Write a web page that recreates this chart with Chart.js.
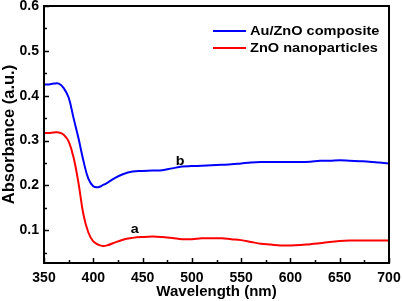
<!DOCTYPE html>
<html>
<head>
<meta charset="utf-8">
<script src="https://cdn.jsdelivr.net/npm/chart.js@4.4.1/dist/chart.umd.min.js"></script>
<style>
  html, body { margin: 0; padding: 0; background: #fff; }
  canvas { display: block; }
</style>
</head>
<body>
<canvas id="uv-chart" width="402" height="301"></canvas>
<script>
// ---- data ----
const wavelengths = [350, 355, 360, 365, 370, 375, 380, 385, 390, 395, 400, 405, 410, 415, 420,
  430, 440, 450, 460, 470, 480, 490, 500, 510, 520, 530, 540, 550, 560, 570, 580, 590, 600,
  610, 620, 630, 640, 650, 660, 670, 680, 690, 700];

const auZnO = [0.425, 0.425, 0.427, 0.427, 0.417, 0.396, 0.350, 0.305, 0.255, 0.215, 0.198, 0.196, 0.201, 0.207, 0.214,
  0.225, 0.231, 0.232, 0.233, 0.234, 0.238, 0.242, 0.243, 0.244, 0.245, 0.246, 0.247, 0.249, 0.251, 0.252, 0.252, 0.252, 0.252,
  0.252, 0.253, 0.255, 0.255, 0.256, 0.255, 0.254, 0.253, 0.251, 0.249];

const znoNP = [0.317, 0.317, 0.318, 0.318, 0.313, 0.298, 0.262, 0.205, 0.135, 0.095, 0.075, 0.068, 0.065, 0.067, 0.071,
  0.079, 0.083, 0.085, 0.086, 0.085, 0.083, 0.080, 0.080, 0.082, 0.082, 0.082, 0.080, 0.078, 0.074, 0.070, 0.068, 0.066, 0.066,
  0.067, 0.069, 0.071, 0.074, 0.076, 0.077, 0.077, 0.077, 0.077, 0.077];

const seriesLabels = ['Au/ZnO composite', 'ZnO nanoparticles'];
const seriesColors = ['#0000ff', '#ff0000'];

const xMajor = [350, 400, 450, 500, 550, 600, 650, 700];
const xMinor = [375, 425, 475, 525, 575, 625, 675];
const yMajor = [0.1, 0.2, 0.3, 0.4, 0.5, 0.6];
const yMinor = [0.05, 0.15, 0.25, 0.35, 0.45, 0.55];

// curve tags: [text, wavelength, absorbance]
const curveTags = [['a', 442, 0.101], ['b', 488, 0.254]];

const FONT = '"Liberation Sans", Arial, sans-serif';

const toPoints = ys => wavelengths.map((x, i) => ({ x, y: ys[i] }));

// draws text a little wider, the original figure's lettering is stretched
function wideText(ctx, text, x, y, sx) {
  ctx.save();
  ctx.translate(x, y);
  ctx.scale(sx, 1);
  ctx.fillText(text, 0, 0);
  ctx.restore();
}

// frame, inward ticks, curve tags and legend
const decorations = {
  id: 'decorations',
  afterDraw(chart) {
    const { ctx, chartArea: a, scales: { x, y } } = chart;
    ctx.save();
    ctx.strokeStyle = '#000';
    ctx.lineWidth = 2;
    ctx.strokeRect(a.left, a.top, a.right - a.left, a.bottom - a.top);

    ctx.lineWidth = 1.5;
    ctx.beginPath();
    const tickX = (v, len) => { const px = Math.round(x.getPixelForValue(v)) + 0.5; ctx.moveTo(px, a.bottom); ctx.lineTo(px, a.bottom - len); };
    const tickY = (v, len) => { const py = Math.round(y.getPixelForValue(v)) + 0.5; ctx.moveTo(a.left, py); ctx.lineTo(a.left + len, py); };
    xMajor.forEach(v => tickX(v, 5));
    xMinor.forEach(v => tickX(v, 3));
    yMajor.forEach(v => tickY(v, 5));
    yMinor.forEach(v => tickY(v, 3));
    ctx.stroke();

    ctx.fillStyle = '#000';
    ctx.font = 'bold 13px ' + FONT;
    ctx.textAlign = 'center';
    ctx.textBaseline = 'middle';
    curveTags.forEach(([t, wx, wy]) => wideText(ctx, t, x.getPixelForValue(wx), y.getPixelForValue(wy), 1.1));

    // legend
    ctx.font = 'bold 13px ' + FONT;
    ctx.textAlign = 'left';
    chart.data.datasets.forEach((ds, i) => {
      const ly = 31 + i * 17;
      ctx.strokeStyle = ds.borderColor;
      ctx.lineWidth = 2;
      ctx.beginPath();
      ctx.moveTo(213, ly);
      ctx.lineTo(246, ly);
      ctx.stroke();
      ctx.fillStyle = '#000';
      wideText(ctx, ds.label, 250, ly, 1.12);
    });
    ctx.restore();
  }
};

new Chart(document.getElementById('uv-chart'), {
  type: 'line',
  data: {
    datasets: [
      { label: seriesLabels[0], data: toPoints(auZnO), borderColor: seriesColors[0], borderWidth: 2, pointRadius: 0, tension: 0.4 },
      { label: seriesLabels[1], data: toPoints(znoNP), borderColor: seriesColors[1], borderWidth: 2, pointRadius: 0, tension: 0.4 }
    ]
  },
  options: {
    responsive: false,
    animation: false,
    layout: { padding: { top: 6, right: 13, left: 0, bottom: 0 } },
    plugins: { legend: { display: false }, tooltip: { enabled: false } },
    scales: {
      x: {
        type: 'linear',
        min: 350, max: 700,
        afterBuildTicks: s => { s.ticks = xMajor.map(v => ({ value: v })); },
        afterFit: s => { s.height = 38; s.paddingLeft = 0; s.paddingRight = 0; },
        grid: { display: false, drawTicks: false },
        border: { display: false },
        ticks: { color: '#000', padding: 7, maxRotation: 0, font: { family: FONT, size: 14, weight: 'bold' } },
        title: { display: true, text: 'Wavelength (nm)', color: '#000', padding: 0, font: { family: FONT, size: 15, weight: 'bold' } }
      },
      y: {
        type: 'linear',
        min: 0.027, max: 0.6,
        afterBuildTicks: s => { s.ticks = yMajor.map(v => ({ value: v })); },
        afterFit: s => { s.width = 44; s.paddingTop = 0; s.paddingBottom = 0; },
        grid: { display: false, drawTicks: false },
        border: { display: false },
        ticks: { color: '#000', padding: 5, font: { family: FONT, size: 14, weight: 'bold' }, callback: v => v.toFixed(1) },
        title: { display: true, text: 'Absorbance (a.u.)', color: '#000', padding: 0, font: { family: FONT, size: 16.5, weight: 'bold' } }
      }
    }
  },
  plugins: [decorations]
});
</script>
</body>
</html>
